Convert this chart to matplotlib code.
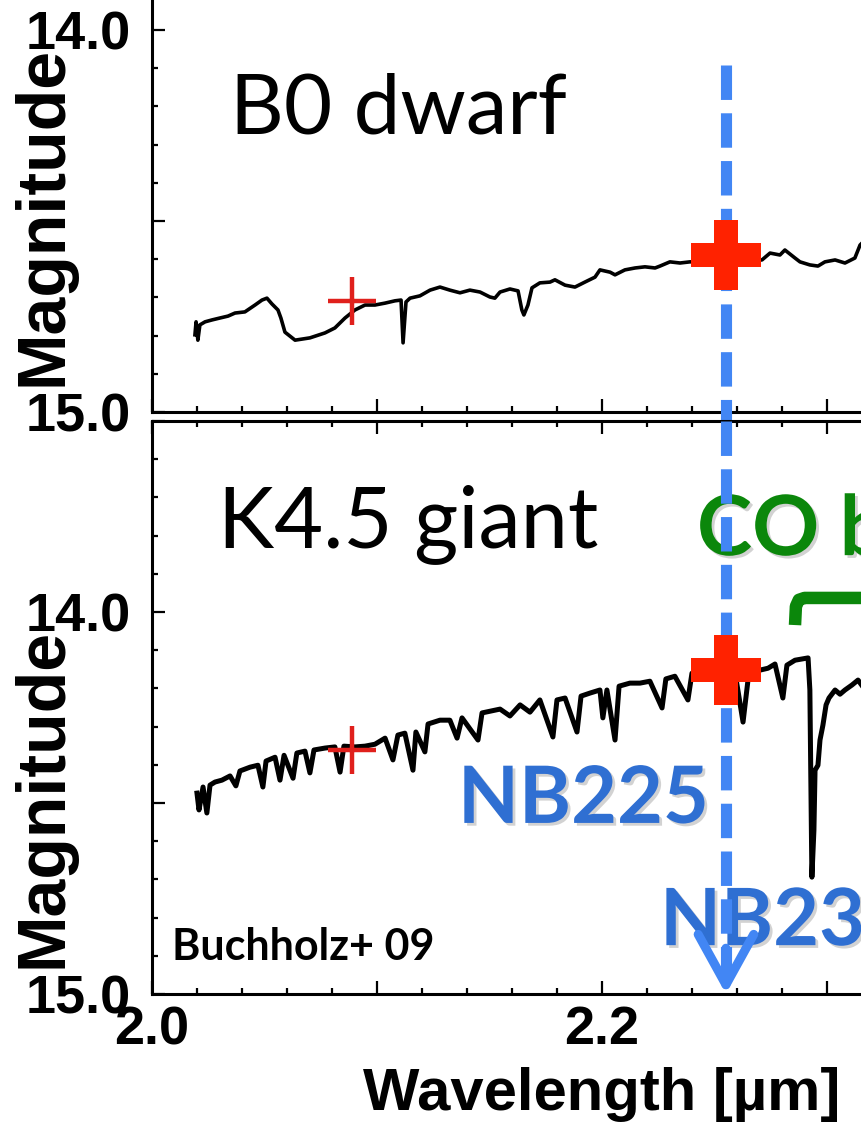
import numpy as np
import matplotlib.pyplot as plt
from matplotlib import patheffects as pe
from matplotlib.ticker import FixedLocator, MultipleLocator

plt.rcParams['font.family'] = 'Liberation Sans'
plt.rcParams['font.weight'] = 'bold'

# B0 dwarf spectrum (wavelength in um, magnitude)
dwarf_wl = [2.0191, 2.0196, 2.0204, 2.0213, 2.0236, 2.0267, 2.0302, 2.0338, 2.0369, 2.0413,
            2.0458, 2.0489, 2.0511, 2.0533, 2.0560, 2.0573, 2.0591, 2.0636, 2.0702, 2.0769,
            2.0813, 2.0858, 2.0902, 2.0947, 2.0991, 2.1036, 2.1080, 2.1107, 2.1116, 2.1129,
            2.1147, 2.1191, 2.1236, 2.1280, 2.1324, 2.1369, 2.1413, 2.1458, 2.1502, 2.1524,
            2.1547, 2.1591, 2.1627, 2.1644, 2.1653, 2.1671, 2.1689, 2.1724, 2.1769, 2.1791,
            2.1836, 2.1880, 2.1924, 2.1969, 2.1991, 2.2036, 2.2058, 2.2102, 2.2147, 2.2191,
            2.2236, 2.2258, 2.2302, 2.2347, 2.2391, 2.2458, 2.2547, 2.2636, 2.2711, 2.2747,
            2.2791, 2.2813, 2.2858, 2.2880, 2.2924, 2.2960, 2.2991, 2.3036, 2.3080, 2.3124,
            2.3147, 2.3169]
dwarf_mag = [14.798, 14.764, 14.812, 14.772, 14.764, 14.759, 14.754, 14.749, 14.741, 14.738,
             14.720, 14.707, 14.702, 14.717, 14.733, 14.754, 14.791, 14.812, 14.806, 14.793,
             14.780, 14.754, 14.733, 14.720, 14.720, 14.715, 14.709, 14.707, 14.819, 14.712,
             14.702, 14.696, 14.681, 14.673, 14.681, 14.688, 14.681, 14.686, 14.699, 14.702,
             14.686, 14.678, 14.683, 14.733, 14.746, 14.720, 14.675, 14.662, 14.660, 14.654,
             14.668, 14.673, 14.660, 14.647, 14.628, 14.634, 14.641, 14.628, 14.623, 14.620,
             14.623, 14.618, 14.607, 14.610, 14.607, 14.607, 14.605, 14.602, 14.602, 14.584,
             14.589, 14.576, 14.597, 14.607, 14.615, 14.618, 14.607, 14.602, 14.610, 14.597,
             14.563, 14.550]

# K4.5 giant spectrum
giant_wl = [2.0200, 2.0209, 2.0227, 2.0244, 2.0258, 2.0280, 2.0311, 2.0347, 2.0373, 2.0391,
            2.0436, 2.0471, 2.0493, 2.0507, 2.0547, 2.0569, 2.0587, 2.0627, 2.0644, 2.0680,
            2.0702, 2.0720, 2.0769, 2.0813, 2.0836, 2.0853, 2.0902, 2.0947, 2.0991, 2.1036,
            2.1071, 2.1093, 2.1124, 2.1160, 2.1173, 2.1213, 2.1227, 2.1280, 2.1324, 2.1356,
            2.1378, 2.1449, 2.1467, 2.1547, 2.1591, 2.1636, 2.1680, 2.1724, 2.1782, 2.1800,
            2.1836, 2.1889, 2.1907, 2.1947, 2.1991, 2.2004, 2.2022, 2.2058, 2.2076, 2.2124,
            2.2169, 2.2213, 2.2267, 2.2284, 2.2324, 2.2382, 2.2400, 2.2458, 2.2524, 2.2591,
            2.2627, 2.2649, 2.2702, 2.2738, 2.2769, 2.2804, 2.2822, 2.2858, 2.2916, 2.2924,
            2.2933, 2.2942, 2.2947, 2.2960, 2.2969, 2.2982, 2.2996, 2.3009, 2.3036, 2.3058,
            2.3080, 2.3111, 2.3138, 2.3164]
giant_mag = [14.474, 14.518, 14.458, 14.526, 14.453, 14.445, 14.440, 14.429, 14.455, 14.416,
             14.406, 14.401, 14.458, 14.390, 14.380, 14.440, 14.375, 14.435, 14.369, 14.364,
             14.421, 14.361, 14.356, 14.353, 14.419, 14.351, 14.353, 14.351, 14.346, 14.330,
             14.387, 14.322, 14.317, 14.414, 14.314, 14.366, 14.293, 14.283, 14.283, 14.330,
             14.277, 14.335, 14.264, 14.254, 14.272, 14.243, 14.262, 14.230, 14.327, 14.230,
             14.225, 14.314, 14.220, 14.212, 14.204, 14.277, 14.204, 14.335, 14.194, 14.186,
             14.186, 14.181, 14.251, 14.175, 14.168, 14.230, 14.160, 14.147, 14.147, 14.157,
             14.288, 14.178, 14.152, 14.147, 14.136, 14.225, 14.139, 14.126, 14.120, 14.204,
             14.694, 14.571, 14.414, 14.401, 14.335, 14.296, 14.243, 14.225, 14.204, 14.215,
             14.204, 14.191, 14.178, 14.199]

# broad-band (K) and narrow-band (NB225) photometry
bb_wl = 2.0889
bb_mag = [14.709, 14.361]
nb_wl = 2.2551
nb_mag = [14.589, 14.152]

x_ticks = [2.0, 2.1, 2.2, 2.3, 2.4]
x_ticklabels = ['2.0', '', '2.2', '', '']
y_ticks = [13.5, 14.0, 14.5, 15.0]
y_ticklabels = ['', '14.0', '', '15.0']

blue = '#4286f4'
txtblue = '#2f6fd2'
green = '#0b870b'
red = '#ff2200'

fig = plt.figure(figsize=(8.61, 11.25), dpi=100)
ax1 = fig.add_axes([0.1765, 0.6338, 1.0453, 0.5093])
ax2 = fig.add_axes([0.1765, 0.1164, 1.0453, 0.5093])

for ax in (ax1, ax2):
    ax.set_xlim(2.0, 2.4)
    ax.set_ylim(15.0, 13.5)
    ax.xaxis.set_major_locator(FixedLocator(x_ticks))
    ax.xaxis.set_minor_locator(MultipleLocator(0.02))
    ax.set_yticks(y_ticks)
    ax.set_yticklabels(y_ticklabels)
    ax.yaxis.set_minor_locator(MultipleLocator(0.1))
    ax.tick_params(which='both', direction='in', width=1.6, top=True, right=True,
                   labelsize=39, pad=15)
    ax.tick_params(which='major', length=9.5)
    ax.tick_params(which='minor', length=4.5)
    ax.tick_params(axis='x', pad=8)
    for sp in ax.spines.values():
        sp.set_linewidth(2.2)
    ax.set_ylabel('Magnitude', fontsize=49, fontweight='bold')
    ax.yaxis.set_label_coords(-0.085, 0.342)

ax1.set_xticklabels([])
ax2.set_xticklabels(x_ticklabels)
ax2.set_xlabel('Wavelength [µm]', fontsize=43, fontweight='bold')
ax2.xaxis.set_label_coords(0.5, -0.128)

ax1.plot(dwarf_wl, dwarf_mag, color='black', lw=2.6, zorder=3)
ax2.plot(giant_wl, giant_mag, color='black', lw=3.6, zorder=3)

for ax, m1, m2 in ((ax1, bb_mag[0], nb_mag[0]), (ax2, bb_mag[1], nb_mag[1])):
    ax.plot(bb_wl, m1, marker='+', ms=35, mew=3.2, color='#e0201c', zorder=5)
    ax.plot(nb_wl, m2, marker='P', ms=50, mew=0, color=red, zorder=5)

# NB225 dashed guide line running through both panels
dash = (0, (3.1, 1.2))
ax1.plot([nb_wl, nb_wl], [14.092, 15.024], color=blue, lw=8, ls=dash,
         clip_on=False, zorder=4, dash_capstyle='butt')
ax2.plot([nb_wl, nb_wl], [13.5, 14.95], color=blue, lw=8, ls=dash,
         clip_on=False, zorder=4, dash_capstyle='butt')
ax2.annotate('', xy=(nb_wl, 15.0), xytext=(nb_wl, 14.88),
             arrowprops=dict(arrowstyle='->,head_length=1.45,head_width=0.8',
                             color=blue, lw=6.5, shrinkA=0, shrinkB=0,
                             mutation_scale=25),
             zorder=6, annotation_clip=False)

shadow = [pe.SimplePatchShadow(offset=(2, -2), shadow_rgbFace='gray', alpha=0.35), pe.Normal()]

ax1.text(2.0347, 14.27, 'B0 dwarf', family='Lato', fontweight='normal', fontsize=60,
         ha='left', va='baseline')
ax2.text(2.0293, 13.83, 'K4.5 giant', family='Lato', fontweight='normal', fontsize=61,
         ha='left', va='baseline')
ax2.text(2.2422, 13.851, 'CO band', family='Lato', fontweight='bold', fontsize=60,
         color=green, ha='left', va='baseline', zorder=2, path_effects=shadow)
ax2.text(2.136, 14.552, 'NB225', family='Lato', fontweight='bold', fontsize=57,
         color=txtblue, ha='left', va='baseline', path_effects=shadow)
ax2.text(2.2258, 14.872, 'NB236', family='Lato', fontweight='bold', fontsize=57,
         color=txtblue, ha='left', va='baseline', path_effects=shadow)
ax2.text(2.0089, 14.911, 'Buchholz+ 09', family='Lato', fontweight='bold', fontsize=31,
         ha='left', va='baseline')

# CO bandhead bracket
ax2.plot([2.2858, 2.2862, 2.2875, 2.2900, 2.45], [14.034, 13.985, 13.968, 13.963, 13.963],
         color=green, lw=9, solid_capstyle='butt', solid_joinstyle='round',
         clip_on=False, zorder=2)

fig.savefig('out.png', dpi=100)
